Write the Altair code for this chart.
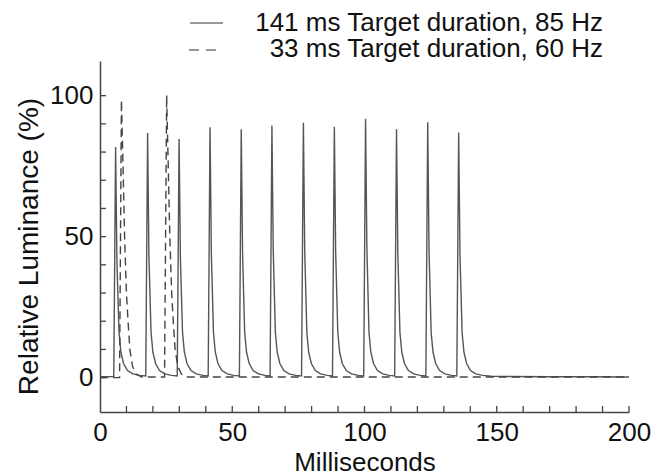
import altair as alt
import pandas as pd

# ---- data ----
series_names = ["141 ms Target duration, 85 Hz", "33 ms Target duration, 60 Hz"]

solid_t = [
    0.0, 5.2, 5.9, 6.4, 7.2, 7.9, 8.9, 10.4, 12.4, 15.0,
    17.3, 18.0, 18.5, 19.3, 20.0, 21.0, 22.5, 24.5, 27.0,
    29.2, 29.9, 30.4, 31.2, 31.9, 32.9, 34.4, 36.4, 38.9,
    40.9, 41.6, 42.1, 42.9, 43.6, 44.6, 46.1, 48.1, 50.6,
    52.7, 53.4, 53.9, 54.7, 55.4, 56.4, 57.9, 59.9, 62.4,
    64.3, 65.0, 65.5, 66.3, 67.0, 68.0, 69.5, 71.5, 74.0,
    76.2, 76.9, 77.4, 78.2, 78.9, 79.9, 81.4, 83.4, 85.9,
    87.9, 88.6, 89.1, 89.9, 90.6, 91.6, 93.1, 95.1, 97.6,
    99.7, 100.4, 100.9, 101.7, 102.4, 103.4, 104.9, 106.9, 109.4,
    111.4, 112.1, 112.6, 113.4, 114.1, 115.1, 116.6, 118.6, 121.1,
    123.2, 123.9, 124.4, 125.2, 125.9, 126.9, 128.4, 130.4, 132.9,
    134.9, 135.6, 136.1, 136.9, 137.6, 138.6, 140.1, 142.1, 144.6,
    148.0, 155.0, 170.0, 185.0, 200.0,
]
solid_v = [
    0.3, 0.4, 81.8, 41.0, 16.0, 9.0, 5.0, 2.5, 1.3, 0.8,
    0.6, 86.8, 43.0, 16.0, 9.0, 5.0, 2.5, 1.3, 0.8,
    0.6, 84.6, 42.0, 16.0, 9.0, 5.0, 2.5, 1.3, 0.8,
    0.6, 88.8, 44.0, 16.0, 9.0, 5.0, 2.5, 1.3, 0.8,
    0.6, 88.1, 44.0, 16.0, 9.0, 5.0, 2.5, 1.3, 0.8,
    0.6, 89.4, 45.0, 16.0, 9.0, 5.0, 2.5, 1.3, 0.8,
    0.6, 90.4, 45.0, 16.0, 9.0, 5.0, 2.5, 1.3, 0.8,
    0.6, 89.0, 44.5, 16.0, 9.0, 5.0, 2.5, 1.3, 0.8,
    0.6, 91.8, 46.0, 16.0, 9.0, 5.0, 2.5, 1.3, 0.8,
    0.6, 88.1, 44.0, 16.0, 9.0, 5.0, 2.5, 1.3, 0.8,
    0.6, 90.6, 45.0, 16.0, 9.0, 5.0, 2.5, 1.3, 0.8,
    0.6, 86.9, 43.5, 16.0, 9.0, 5.0, 2.5, 1.3, 0.8,
    0.5, 0.4, 0.3, 0.3, 0.2,
]

dash_t = [0.0, 7.4, 8.1, 8.7, 9.3, 10.0, 10.6, 11.3, 12.3, 13.7, 15.8,
          24.4, 25.2, 25.8, 26.4, 27.1, 27.7, 28.4, 29.4, 30.8, 32.9, 200.0]
dash_v = [0.0, 0.0, 98.5, 75.0, 50.0, 30.0, 20.0, 10.0, 4.0, 1.2, 0.2,
          0.2, 100.2, 75.0, 50.0, 30.0, 20.0, 10.0, 4.0, 1.2, 0.2, 0.2]

x_label_vals = [0, 50, 100, 150, 200]
y_label_vals = [0, 50, 100]
x_tick_vals = [10, 20, 30, 40, 50, 60, 70, 80, 90, 100,
               110, 120, 130, 140, 150, 160, 170, 180, 190, 200]
y_tick_vals = [0, 10, 20, 30, 40, 50, 60, 70, 80, 90, 100]

FONT = "Liberation Sans"
W, H = 529, 351

df_solid = pd.DataFrame({"t": solid_t, "v": solid_v})
df_dash = pd.DataFrame({"t": dash_t, "v": dash_v})

xs = alt.Scale(domain=[0, 200], nice=False, zero=False)
ys = alt.Scale(domain=[-12.2, 112.3], nice=False, zero=False)

xaxis = alt.Axis(
    values=x_label_vals, title="Milliseconds", ticks=False, grid=False,
    labelFlush=False, labelPadding=7, labelFontSize=26, labelFont=FONT,
    labelColor="#111111", titleFontSize=26, titleFont=FONT,
    titleFontWeight="normal", titleColor="#111111", titleY=58,
    titleBaseline="alphabetic", domainColor="#444444", domainWidth=1.5)
yaxis = alt.Axis(
    values=y_label_vals, title="Relative Luminance (%)", ticks=False,
    grid=False, labelFlush=False, labelPadding=7, labelFontSize=26,
    labelFont=FONT, labelColor="#111111", titleFontSize=28, titleFont=FONT,
    titleFontWeight="normal", titleColor="#111111", titleX=-63,
    titleY=185, titleBaseline="alphabetic", titleAngle=270,
    domainColor="#444444", domainWidth=1.5)

solid = alt.Chart(df_solid).mark_line(color="#555555", strokeWidth=1.4).encode(
    x=alt.X("t:Q", scale=xs, axis=xaxis),
    y=alt.Y("v:Q", scale=ys, axis=yaxis),
)

dashed = alt.Chart(df_dash).mark_line(color="#444444", strokeWidth=1.4,
                                      strokeDash=[8, 5]).encode(
    x=alt.X("t:Q", scale=xs, axis=xaxis),
    y=alt.Y("v:Q", scale=ys, axis=yaxis),
)

xticks = alt.Chart(pd.DataFrame({"t": x_tick_vals})).mark_rule(
    color="#444444", strokeWidth=1.3).encode(
    x=alt.X("t:Q", scale=xs, axis=xaxis),
    y=alt.value(H), y2=alt.value(H - 6),
)
yticks = alt.Chart(pd.DataFrame({"v": y_tick_vals})).mark_rule(
    color="#444444", strokeWidth=1.3).encode(
    y=alt.Y("v:Q", scale=ys, axis=yaxis),
    x=alt.value(0), x2=alt.value(6),
)

one = pd.DataFrame({"a": [0]})
leg_solid = alt.Chart(one).mark_rule(color="#777777", strokeWidth=1.3).encode(
    x=alt.value(90), x2=alt.value(123), y=alt.value(-38))
leg_dash = alt.Chart(one).mark_rule(color="#777777", strokeWidth=1.3,
                                    strokeDash=[10, 7]).encode(
    x=alt.value(89), x2=alt.value(119), y=alt.value(-11))
leg_t1 = alt.Chart(pd.DataFrame({"name": [series_names[0]]})).mark_text(
    align="right", baseline="alphabetic", fontSize=26, font=FONT,
    color="#111111").encode(text="name:N", x=alt.value(503), y=alt.value(-30))
leg_t2 = alt.Chart(pd.DataFrame({"name": [series_names[1]]})).mark_text(
    align="right", baseline="alphabetic", fontSize=26, font=FONT,
    color="#111111").encode(text="name:N", x=alt.value(503), y=alt.value(-4))

chart = alt.layer(
    solid, dashed, xticks, yticks, leg_solid, leg_dash, leg_t1, leg_t2
).properties(
    width=W, height=H, background="white",
    padding={"left": 92, "top": 53, "right": 23, "bottom": 66},
    autosize=alt.AutoSizeParams(type="none"),
).configure_view(stroke=None)

chart.save("out.html", embed_options={"renderer": "svg", "actions": False})
